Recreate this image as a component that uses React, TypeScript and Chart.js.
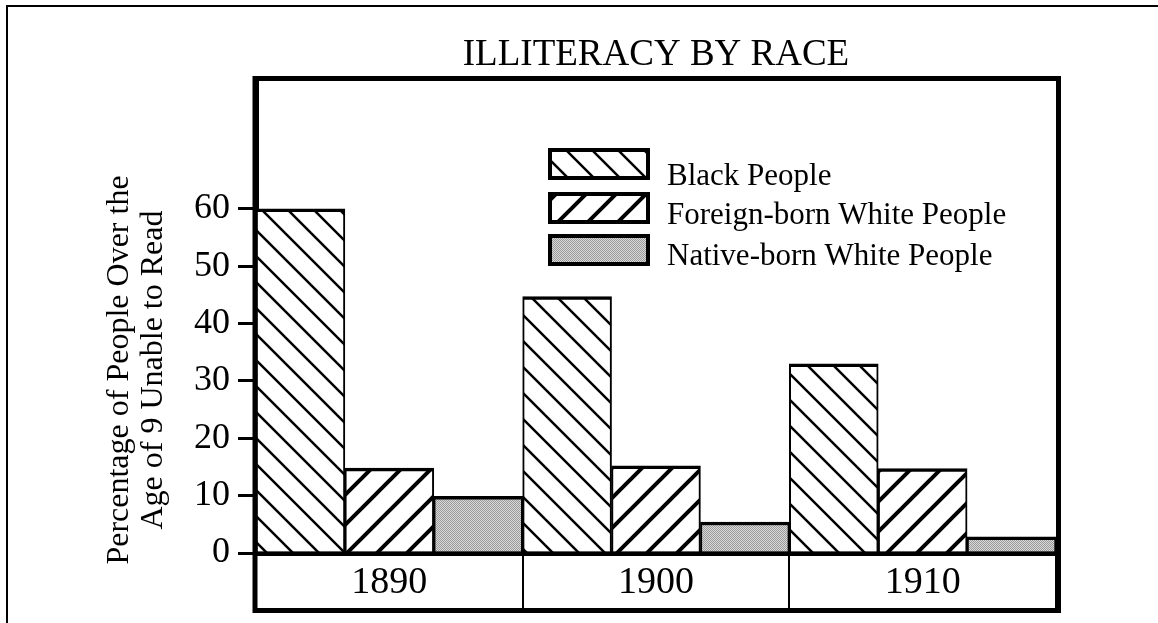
import React, { useEffect, useRef } from "react";
import { Chart, registerables } from "chart.js";

Chart.register(...registerables);

// ---- data ----
const categories = ["1890", "1900", "1910"];
const seriesLabels = ["Black People", "Foreign-born White People", "Native-born White People"];
const blackPeople = [60, 44.7, 33];
const foreignBornWhite = [14.8, 15.2, 14.7];
const nativeBornWhite = [9.9, 5.4, 2.8];
const yTicks = [0, 10, 20, 30, 40, 50, 60];
const yAxisTitle = ["Percentage of People Over the", "Age of 9 Unable to Read"];
const chartTitle = "ILLITERACY BY RACE";
const Y_MAX = 82.3;

const FONT = "'Liberation Serif', 'Times New Roman', serif";

function hatch(dir: "back" | "fwd", size: number, lw: number) {
  const c = document.createElement("canvas");
  c.width = size;
  c.height = size;
  const g = c.getContext("2d")!;
  g.fillStyle = "#fff";
  g.fillRect(0, 0, size, size);
  g.strokeStyle = "#000";
  g.lineWidth = lw;
  for (const o of [-size, 0, size]) {
    g.beginPath();
    if (dir === "back") {
      g.moveTo(o - 2, -2);
      g.lineTo(o + size + 2, size + 2);
    } else {
      g.moveTo(o - 2, size + 2);
      g.lineTo(o + size + 2, -2);
    }
    g.stroke();
  }
  return g.createPattern(c, "repeat")!;
}

function stipple() {
  const c = document.createElement("canvas");
  c.width = 2;
  c.height = 2;
  const g = c.getContext("2d")!;
  g.fillStyle = "#d9d9d9";
  g.fillRect(0, 0, 2, 2);
  g.fillStyle = "#9a9a9a";
  g.fillRect(0, 0, 1, 1);
  g.fillRect(1, 1, 1, 1);
  return g.createPattern(c, "repeat")!;
}

const pagePlugin = {
  id: "pageFrame",
  beforeDraw(chart: any) {
    const ctx = chart.ctx;
    ctx.save();
    ctx.fillStyle = "#fff";
    ctx.fillRect(0, 0, chart.width, chart.height);
    ctx.strokeStyle = "#000";
    ctx.lineWidth = 2;
    ctx.beginPath();
    ctx.moveTo(7, chart.height);
    ctx.lineTo(7, 6);
    ctx.lineTo(chart.width, 6);
    ctx.stroke();
    ctx.restore();
  },
  afterDraw(chart: any) {
    const ctx = chart.ctx;
    const a = chart.chartArea;
    const xs = chart.scales.x;
    ctx.save();
    // plot box
    ctx.strokeStyle = "#000";
    ctx.lineWidth = 5;
    ctx.strokeRect(a.left - 1, a.top - 2.5, a.right + 2.5 - (a.left - 1), xs.bottom + 0.5 - (a.top - 2.5));

    // y axis title
    ctx.fillStyle = "#000";
    ctx.font = `32px ${FONT}`;
    ctx.textAlign = "center";
    ctx.textBaseline = "middle";
    ctx.translate(137, 370);
    ctx.rotate(-Math.PI / 2);
    ctx.fillText(yAxisTitle[0], 0, -17);
    ctx.fillText(yAxisTitle[1], 0, 17);
    ctx.restore();

    // legend
    ctx.save();
    const ds = chart.data.datasets;
    const boxTops = [150, 194, 236];
    const baselines = [185, 224, 265];
    ctx.font = `31px ${FONT}`;
    ctx.textAlign = "left";
    ctx.textBaseline = "alphabetic";
    for (let i = 0; i < ds.length; i++) {
      const y = boxTops[i];
      ctx.fillStyle = ds[i].backgroundColor;
      ctx.fillRect(550, y, 98, 28);
      ctx.strokeStyle = "#000";
      ctx.lineWidth = 4;
      ctx.strokeRect(550, y, 98, 28);
      ctx.fillStyle = "#000";
      ctx.fillText(ds[i].label, 667, baselines[i]);
    }
    ctx.restore();
  },
};

export default function App() {
  const ref = useRef<HTMLCanvasElement | null>(null);

  useEffect(() => {
    document.body.style.margin = "0";
    const canvas = ref.current!;
    const border = { top: 3.5, left: 2, right: 2, bottom: 0 };
    const chart = new Chart(canvas, {
      type: "bar",
      data: {
        labels: categories,
        datasets: [
          {
            label: seriesLabels[0],
            data: blackPeople,
            backgroundColor: hatch("back", 26, 2.5) as any,
            borderColor: "#000",
            borderWidth: border as any,
            borderSkipped: false,
          },
          {
            label: seriesLabels[1],
            data: foreignBornWhite,
            backgroundColor: hatch("fwd", 30, 4) as any,
            borderColor: "#000",
            borderWidth: border as any,
            borderSkipped: false,
          },
          {
            label: seriesLabels[2],
            data: nativeBornWhite,
            backgroundColor: stipple() as any,
            borderColor: "#000",
            borderWidth: border as any,
            borderSkipped: false,
          },
        ],
      },
      options: {
        animation: false,
        responsive: false,
        devicePixelRatio: 1,
        layout: { padding: { left: 0, right: 102, top: 0, bottom: 13 } },
        datasets: { bar: { categoryPercentage: 1, barPercentage: 1 } },
        plugins: {
          legend: { display: false },
          tooltip: { enabled: false },
          title: {
            display: true,
            text: chartTitle,
            fullSize: false,
            color: "#000",
            font: { family: FONT, size: 37, weight: "normal" },
            padding: { top: 33, bottom: 3.6 },
          },
        },
        scales: {
          x: {
            z: 1,
            offset: true,
            grid: {
              display: true,
              drawOnChartArea: false,
              drawTicks: true,
              tickLength: 57,
              color: "#000",
              lineWidth: 2,
              offset: true,
            },
            border: { display: true, width: 5, color: "#000" },
            ticks: {
              color: "#000",
              font: { family: FONT, size: 38 },
              padding: -50,
              maxRotation: 0,
              autoSkip: false,
            },
            afterFit: (s: any) => {
              s.height = 57;
            },
          },
          y: {
            z: 1,
            min: 0,
            max: Y_MAX,
            afterBuildTicks: (s: any) => {
              s.ticks = yTicks.map((v) => ({ value: v }));
            },
            grid: {
              display: true,
              drawOnChartArea: false,
              drawTicks: true,
              tickLength: 18,
              color: "#000",
              lineWidth: 3,
            },
            border: { display: true, width: 5, color: "#000" },
            ticks: {
              color: "#000",
              font: { family: FONT, size: 36 },
              padding: 8,
              callback: (v: any) => String(v),
            },
            afterFit: (s: any) => {
              s.width = 256;
            },
          },
        },
      },
      plugins: [pagePlugin],
    });
    return () => chart.destroy();
  }, []);

  return (
    <div style={{ position: "absolute", left: 0, top: 0, width: 1158, height: 623 }}>
      <canvas ref={ref} width={1158} height={623} style={{ display: "block" }} />
    </div>
  );
}
